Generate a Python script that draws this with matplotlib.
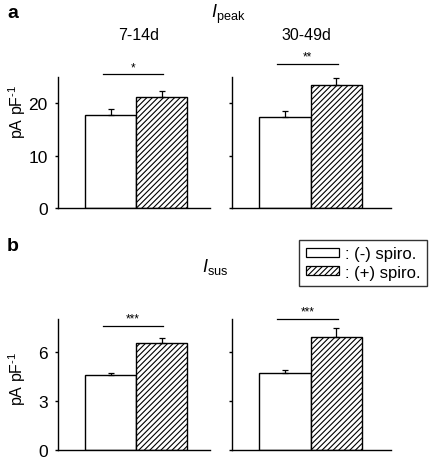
import matplotlib
matplotlib.use("Agg")
import matplotlib.pyplot as plt
from matplotlib.patches import Patch

plt.rcParams['font.family'] = ['Liberation Sans', 'DejaVu Sans']
plt.rcParams['mathtext.fontset'] = 'custom'
plt.rcParams['mathtext.rm'] = 'Liberation Sans'
plt.rcParams['mathtext.it'] = 'Liberation Sans:italic'
plt.rcParams['hatch.linewidth'] = 0.8

# Data
groups = ["7-14d", "30-49d"]
conditions = ["(-) spiro.", "(+) spiro."]
peak_mean = [[17.7, 21.2], [17.4, 23.4]]
peak_err = [[1.2, 1.1], [1.1, 1.5]]
sus_mean = [[4.58, 6.53], [4.69, 6.90]]
sus_err = [[0.15, 0.29], [0.20, 0.52]]
peak_sig = ["*", "**"]
sus_sig = ["***", "***"]
peak_ticks = [0, 10, 20]
sus_ticks = [0, 3, 6]

W, H = 436, 460
fig = plt.figure(figsize=(W / 100, H / 100), dpi=100)

def fx(px):
    return px / W

def fy(py):
    return 1 - py / H

panels = [
    # (left px, right px, top px, bottom px)
    (58, 210, 78, 209), (232, 391, 78, 209),
    (58, 210, 320, 451), (232, 391, 320, 451),
]

rows = [
    (peak_mean, peak_err, peak_sig, peak_ticks, 25, [25.5, 27.5]),
    (sus_mean, sus_err, sus_sig, sus_ticks, 8, [7.6, 8.03]),
]

fs = 11.5
axes = []
for r, (means, errs, sigs, ticks, ymax, sig_y) in enumerate(rows):
    for c in range(2):
        l, rr, t, b = panels[r * 2 + c]
        ax = fig.add_axes([fx(l), fy(b), fx(rr - l), (b - t) / H])
        axes.append(ax)
        x = [0, 1]
        ax.bar(x[0], means[c][0], width=1.0, color='white', edgecolor='black', linewidth=1.0, zorder=2)
        ax.bar(x[1], means[c][1], width=1.0, color='white', edgecolor='black', linewidth=1.0,
               hatch='//////', zorder=2)
        for i in range(2):
            ax.errorbar(x[i], means[c][i], yerr=[[0], [errs[c][i]]], fmt='none', ecolor='black',
                        elinewidth=0.9, capsize=2.5, capthick=0.9, zorder=3)
        ax.set_xlim(-1.03, 1.95 if c == 0 else 2.06)
        ax.set_ylim(0, ymax)
        ax.set_yticks(ticks)
        if c == 0:
            ax.set_yticklabels([str(v) for v in ticks], fontsize=12.5)
        else:
            ax.set_yticklabels([])
        ax.set_xticks([])
        for s in ['top', 'right']:
            ax.spines[s].set_visible(False)
        for s in ['left', 'bottom']:
            ax.spines[s].set_linewidth(1.0)
        ax.tick_params(axis='y', direction='out', length=2.5, width=1.0, pad=5)
        ax.plot([-0.15, 1.03], [sig_y[c], sig_y[c]], color='black', lw=0.9, clip_on=False)
        ax.text(0.44, sig_y[c] + ymax * 0.008, sigs[c], ha='center', va='bottom', fontsize=8.5)

# Group labels
fig.text(fx(139), fy(35), groups[0], ha='center', va='center', fontsize=fs)
fig.text(fx(306), fy(35), groups[1], ha='center', va='center', fontsize=fs)

# Panel letters
fig.text(fx(7), fy(13), 'a', ha='left', va='center', fontsize=14, fontweight='bold')
fig.text(fx(7), fy(247), 'b', ha='left', va='center', fontsize=14, fontweight='bold')

# Titles
fig.text(fx(228), fy(14), r'$\mathit{I}_{\mathrm{peak}}$', ha='center', va='center', fontsize=13)
fig.text(fx(215), fy(267), r'$\mathit{I}_{\mathrm{sus}}$', ha='center', va='center', fontsize=13)

# Y labels
ylab = r'pA pF$^{\text{-1}}$'
fig.text(fx(17), fy(112), ylab, rotation=90, ha='center', va='center', fontsize=fs)
fig.text(fx(17), fy(379), ylab, rotation=90, ha='center', va='center', fontsize=fs)

# Legend
handles = [Patch(facecolor='white', edgecolor='black', linewidth=0.9),
           Patch(facecolor='white', edgecolor='black', linewidth=0.9, hatch='//////')]
leg = fig.legend(handles, [': ' + c for c in conditions], loc='upper right',
                 bbox_to_anchor=(fx(427), fy(240.7)), frameon=True, fancybox=False,
                 edgecolor='black', fontsize=12, handlelength=2.0, handleheight=0.45,
                 handletextpad=0.35, labelspacing=0.2, borderpad=0.4, borderaxespad=0)
leg.get_frame().set_linewidth(1.0)

fig.savefig('out.png', dpi=100)
